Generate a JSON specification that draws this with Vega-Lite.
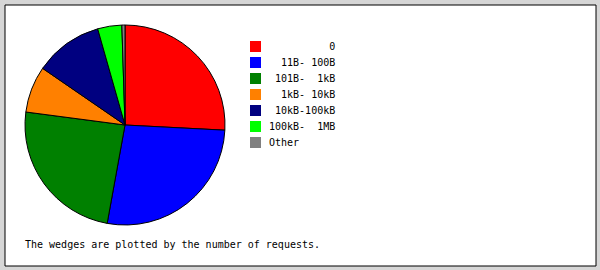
{
  "$schema": "https://vega.github.io/schema/vega-lite/v6.json",
  "width": 591,
  "height": 261,
  "autosize": {"type": "none"},
  "padding": {"left": 4.5, "top": 4.5, "right": 4.5, "bottom": 4.5},
  "background": "#d6d6d6",
  "view": {"fill": "#ffffff", "stroke": "#000000", "strokeWidth": 1},
  "title": {
    "text": "The wedges are plotted by the number of requests.",
    "orient": "bottom",
    "anchor": "start",
    "frame": "group",
    "offset": -17.5,
    "dx": 20.5,
    "baseline": "alphabetic",
    "font": "DejaVu Sans Mono",
    "fontSize": 10,
    "fontWeight": "normal",
    "color": "#000000"
  },
  "data": {
    "values": [
      {"n": 1, "size": "\u200b\u00a0\u00a0\u00a0\u00a0\u00a0\u00a0\u00a0\u00a0\u00a0\u00a00", "pct": 25.8},
      {"n": 2, "size": "\u200b\u00a0\u00a011B-\u00a0100B", "pct": 27.0},
      {"n": 3, "size": "\u200b\u00a0101B-\u00a0\u00a01kB", "pct": 24.2},
      {"n": 4, "size": "\u200b\u00a0\u00a01kB-\u00a010kB", "pct": 7.5},
      {"n": 5, "size": "\u200b\u00a010kB-100kB", "pct": 11.0},
      {"n": 6, "size": "100kB-\u00a0\u00a01MB", "pct": 3.9},
      {"n": 7, "size": "Other", "pct": 0.5}
    ]
  },
  "mark": {
    "type": "arc",
    "x": 120.5,
    "y": 120.5,
    "outerRadius": 100,
    "stroke": "#000000",
    "strokeWidth": 1
  },
  "encoding": {
    "theta": {"field": "pct", "type": "quantitative", "stack": true},
    "order": {"field": "n", "type": "quantitative"},
    "color": {
      "field": "size",
      "type": "nominal",
      "scale": {
        "domain": [
          "\u200b\u00a0\u00a0\u00a0\u00a0\u00a0\u00a0\u00a0\u00a0\u00a0\u00a00",
          "\u200b\u00a0\u00a011B-\u00a0100B",
          "\u200b\u00a0101B-\u00a0\u00a01kB",
          "\u200b\u00a0\u00a01kB-\u00a010kB",
          "\u200b\u00a010kB-100kB",
          "100kB-\u00a0\u00a01MB",
          "Other"
        ],
        "range": ["#ff0000", "#0000ff", "#008000", "#ff8000", "#000080", "#00ff00", "#808080"]
      },
      "legend": {
        "title": null,
        "orient": "none",
        "legendX": 245.5,
        "legendY": 36.5,
        "padding": 0,
        "symbolType": "square",
        "symbolSize": 121,
        "symbolStrokeWidth": 0,
        "symbolOpacity": 1,
        "labelFont": "DejaVu Sans Mono",
        "labelFontSize": 10,
        "labelColor": "#000000",
        "labelOffset": 8,
        "rowPadding": 5,
        "labelLimit": 200
      }
    }
  }
}
